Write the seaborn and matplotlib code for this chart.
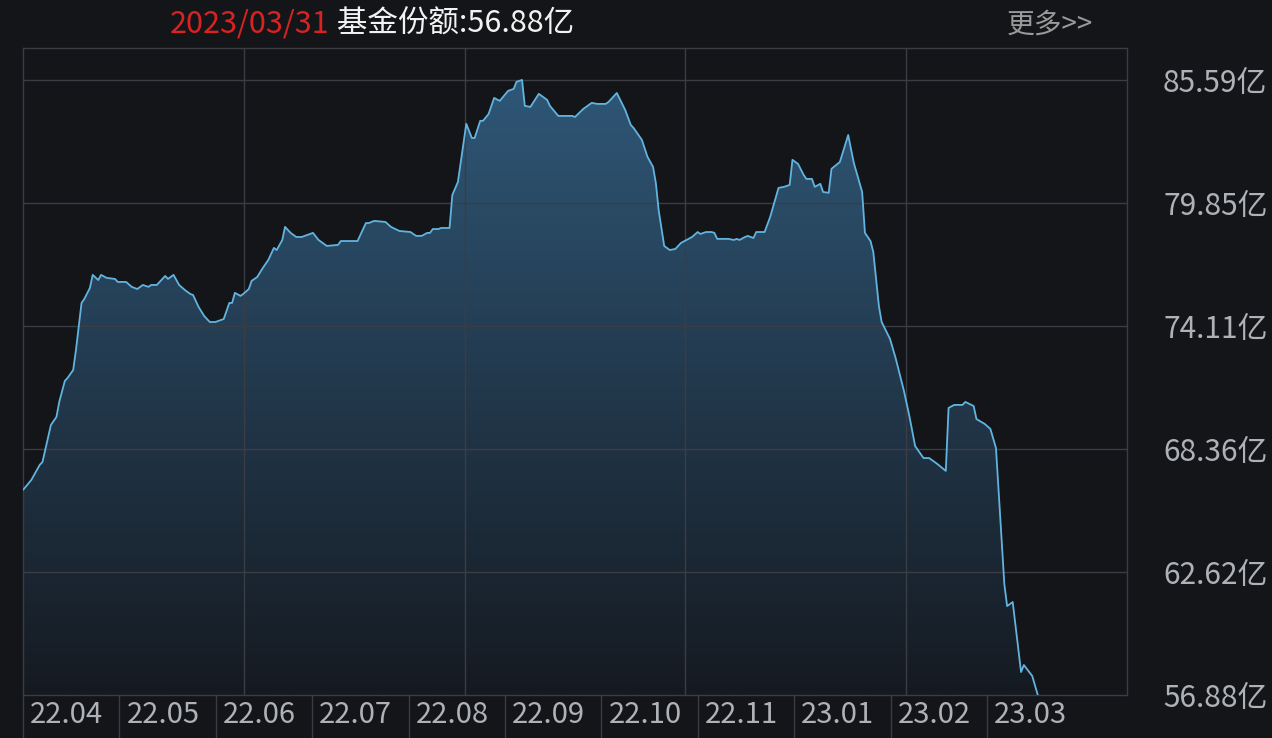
import numpy as np
import pandas as pd
import matplotlib
matplotlib.use("Agg")
import matplotlib.pyplot as plt
import seaborn as sns
from matplotlib.lines import Line2D
from matplotlib.patches import Polygon
from matplotlib.colors import to_rgb

# ---------------- data ----------------
start_date = "2022-04-01"
day_offset = [0, 3, 4, 6, 7, 9, 10, 12, 13, 15,
              16, 18, 19, 21, 22, 24, 25, 27, 28, 30,
              33, 34, 37, 39, 41, 43, 45, 46, 48, 51,
              52, 54, 56, 58, 60, 61, 63, 65, 67, 69,
              72, 74, 75, 76, 78, 79, 81, 82, 84, 86,
              88, 90, 91, 93, 94, 96, 98, 100, 104, 106,
              109, 113, 114, 120, 123, 124, 126, 130, 132, 135,
              139, 141, 143, 145, 146, 147, 149, 150, 153, 154,
              156, 158, 159, 161, 162, 164, 165, 167, 169, 171,
              174, 176, 177, 179, 180, 182, 185, 188, 189, 192,
              197, 198, 201, 204, 206, 209, 210, 213, 216, 218,
              219, 222, 224, 226, 227, 228, 230, 232, 234, 236,
              238, 240, 242, 243, 245, 247, 248, 249, 253, 255,
              256, 257, 259, 260, 262, 263, 266, 268, 271, 273,
              275, 276, 278, 280, 281, 283, 284, 286, 287, 289,
              290, 293, 296, 298, 301, 302, 304, 305, 307, 308,
              311, 313, 316, 318, 320, 322, 323, 325, 326, 328,
              331, 332, 334, 337, 338, 341, 342, 345, 347, 349,
              352, 353, 355, 358, 359, 362, 364]
share_yi = [66.45, 66.92, 67.15, 67.62, 67.76, 68.92, 69.48, 69.86, 70.56, 71.54,
            71.68, 72.05, 72.99, 75.18, 75.37, 75.88, 76.49, 76.25, 76.49, 76.35,
            76.30, 76.16, 76.16, 75.93, 75.83, 76.02, 75.93, 76.02, 76.02, 76.44,
            76.30, 76.49, 76.02, 75.79, 75.60, 75.55, 74.99, 74.57, 74.29, 74.29,
            74.43, 75.18, 75.18, 75.65, 75.51, 75.60, 75.83, 76.21, 76.39, 76.81,
            77.19, 77.75, 77.65, 78.12, 78.73, 78.45, 78.26, 78.26, 78.45, 78.12,
            77.84, 77.89, 78.07, 78.07, 78.91, 78.91, 79.01, 78.96, 78.73, 78.54,
            78.49, 78.31, 78.31, 78.45, 78.45, 78.63, 78.63, 78.68, 78.68, 80.22,
            80.83, 82.65, 83.54, 82.88, 82.88, 83.68, 83.68, 84.00, 84.75, 84.61,
            85.08, 85.17, 85.50, 85.59, 84.38, 84.33, 84.94, 84.66, 84.38, 83.91,
            83.91, 83.86, 84.24, 84.52, 84.47, 84.47, 84.56, 84.98, 84.19, 83.49,
            83.35, 82.79, 82.00, 81.53, 80.78, 79.52, 77.84, 77.65, 77.70, 77.98,
            78.12, 78.26, 78.49, 78.40, 78.49, 78.49, 78.45, 78.17, 78.17, 78.12,
            78.17, 78.12, 78.26, 78.31, 78.21, 78.49, 78.49, 79.19, 80.55, 80.60,
            80.69, 81.86, 81.67, 81.16, 80.97, 80.97, 80.60, 80.74, 80.36, 80.32,
            81.44, 81.76, 83.02, 81.72, 80.36, 78.45, 78.07, 77.56, 75.04, 74.29,
            73.50, 72.61, 71.07, 69.86, 68.50, 68.13, 67.94, 67.94, 67.85, 67.66,
            67.34, 70.28, 70.42, 70.42, 70.56, 70.37, 69.76, 69.53, 69.30, 68.41,
            62.06, 61.03, 61.22, 57.95, 58.28, 57.77, 56.88]
y_ticks = [56.88, 62.62, 68.36, 74.11, 79.85, 85.59]
x_labels = ["22.04", "22.05", "22.06", "22.07", "22.08", "22.09",
            "22.10", "22.11", "23.01", "23.02", "23.03"]
title_date = "2023/03/31"
title_text = " 基金份额:56.88亿"
more_text = "更多>>"
unit = "亿"

# ---------------- style ----------------
sns.set_theme(style="dark")
plt.rcParams["font.family"] = ["Noto Sans CJK SC", "DejaVu Sans"]

BG = "#131519"
GRID = "#3a3d43"
LINE = "#62b4e0"
LABEL = "#aeb1b5"
W, H = 1272, 738

fig = plt.figure(figsize=(W / 100, H / 100), dpi=100, facecolor=BG)
ax = fig.add_axes([23 / W, 43 / H, 1104 / W, 647 / H])
ax.set_facecolor(BG)

df = pd.DataFrame({"day": day_offset, "share": share_yi})
df["date"] = pd.Timestamp(start_date) + pd.to_timedelta(df["day"], unit="D")

x_max = 396
y_min, y_top = y_ticks[0], 87.08
ax.set_xlim(0, x_max)
ax.set_ylim(y_min, y_top)

# gradient area under the curve
grad = np.linspace(0, 1, 256)[:, None, None]
c_top = np.array(to_rgb("#2f5777"))
c_bot = np.array(to_rgb("#151a21"))
img = c_bot + (c_top - c_bot) * grad
im = ax.imshow(img, extent=[0, x_max, y_min, max(share_yi)], origin="lower",
               aspect="auto", zorder=1, interpolation="bilinear")
xs = np.r_[df["day"].iloc[0], df["day"].values, df["day"].iloc[-1]]
ys = np.r_[y_min, df["share"].values, y_min]
clip = Polygon(np.column_stack([xs, ys]), closed=True, transform=ax.transData,
               facecolor="none", edgecolor="none")
ax.add_patch(clip)
im.set_clip_path(clip)

# grid
for v in y_ticks[1:]:
    ax.axhline(v, color=GRID, lw=1.0, zorder=2)
for f in [0.2, 0.4, 0.6, 0.8]:
    ax.axvline(x_max * f, color=GRID, lw=1.0, zorder=2)
ax.grid(False)

# line
sns.lineplot(data=df, x="day", y="share", ax=ax, color=LINE, lw=1.3, zorder=3)
ax.set_xlim(0, x_max)
ax.set_ylim(y_min, y_top)

for s in ax.spines.values():
    s.set_color(GRID)
    s.set_linewidth(1.0)
    s.set_visible(True)

ax.set_xticks([])
ax.set_xlabel("")
ax.set_ylabel("")
ax.yaxis.tick_right()
ax.set_yticks(y_ticks)
ax.set_yticklabels([f"{v:.2f}{unit}" for v in y_ticks])
ax.tick_params(axis="y", length=0, pad=26, labelsize=21.5, labelcolor=LABEL)

# bottom month cells
cell_w = 96.4
for i, lab in enumerate(x_labels):
    x0 = 23 + i * cell_w
    fig.add_artist(Line2D([x0 / W, x0 / W], [0, 43 / H], color=GRID, lw=1.0))
    fig.text((x0 + 7) / W, 1 - 715 / H, lab, ha="left", va="center",
             color=LABEL, fontsize=21)

# title
t1 = fig.text(170 / W, 1 - 24 / H, title_date, color="#d92222", fontsize=22,
              ha="left", va="center")
ax.annotate(title_text, xy=(1, 0), xycoords=t1, ha="left", va="bottom",
            color="#f2f2f2", fontsize=22, annotation_clip=False)
fig.text(1007 / W, 1 - 25 / H, more_text, color="#9a9a9a", fontsize=20,
         ha="left", va="center")

fig.savefig("out.png", dpi=100, facecolor=BG)
